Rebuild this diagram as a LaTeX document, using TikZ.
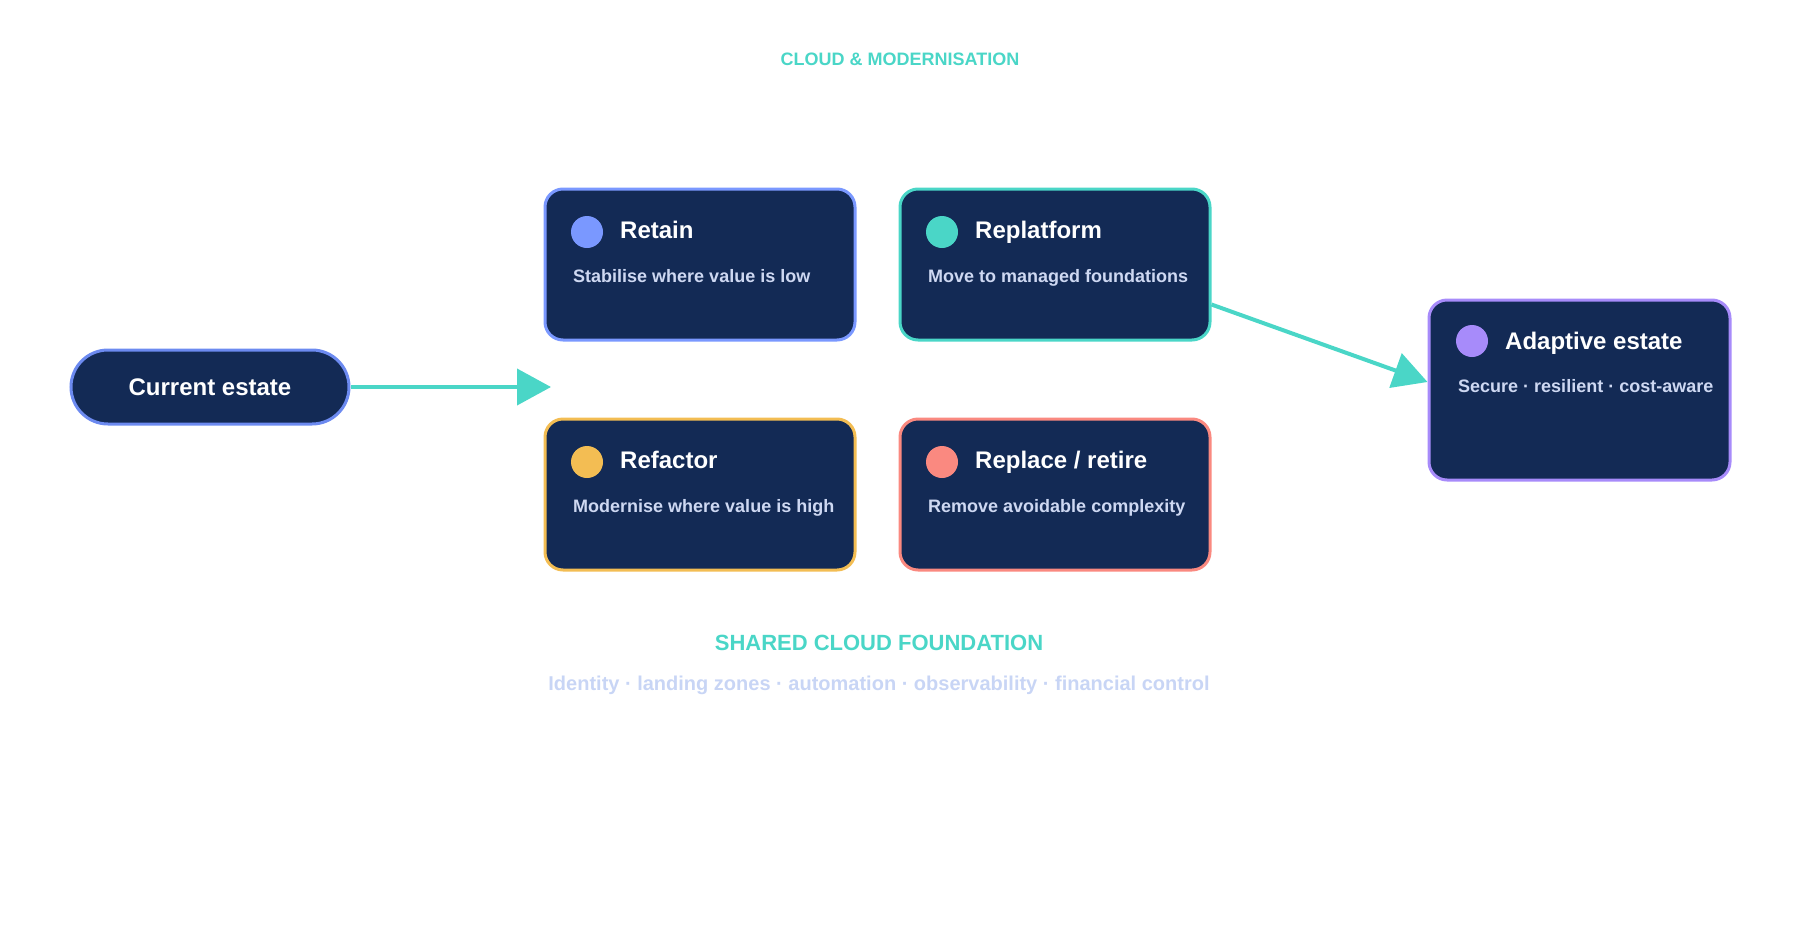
\documentclass[tikz,border=0pt]{standalone}
\usepackage{fontspec}
\setmainfont{Liberation Sans}
\usetikzlibrary{arrows.meta}
\usetikzlibrary{shapes}

\definecolor{navy}{RGB}{19,42,85}
\definecolor{teal}{RGB}{74,214,199}
\definecolor{retainblue}{RGB}{122,152,255}
\definecolor{pillblue}{RGB}{108,138,240}
\definecolor{refactoryellow}{RGB}{243,189,83}
\definecolor{replacered}{RGB}{250,137,128}
\definecolor{adaptivepurple}{RGB}{167,139,250}
\definecolor{cardsub}{RGB}{206,216,242}
\definecolor{foundsub}{RGB}{200,213,245}

\tikzset{
  card/.style={draw, line width=3pt, fill=navy, rounded corners=18pt, minimum width=310pt, minimum height=151pt, inner sep=0pt},
  dot/.style={circle, minimum size=32pt, inner sep=0pt},
  cardtitle/.style={anchor=base west, inner sep=0pt, text=white, font=\fontsize{24}{28}\selectfont\bfseries},
  cardtext/.style={anchor=base west, inner sep=0pt, text=cardsub, font=\fontsize{18}{21}\selectfont\bfseries},
  flow/.style={draw=teal, line width=4pt, -{Triangle[length=34pt,width=36pt]}},
}

\begin{document}
\begin{tikzpicture}[x=1pt,y=1pt,yscale=-1,xscale=1]
\useasboundingbox (0,0) rectangle (1800,940);

% Title
\node (title) at (900,59) [text=teal, font=\fontsize{18}{21}\selectfont\bfseries] {CLOUD \& MODERNISATION};

% Current estate
\node (current) at (210,387) [draw=pillblue, line width=3pt, fill=navy, rounded corners=37pt, minimum width=278pt, minimum height=74pt, text=white, font=\fontsize{24}{28}\selectfont\bfseries] {Current estate};
\coordinate (fanin) at (551,387);

% Retain
\node (retain) at (700,264.5) [card, draw=retainblue] {};
\node (retaindot) at (587,232) [dot, fill=retainblue] {};
\node (retaintitle) at (620,238) [cardtitle] {Retain};
\node (retaintext) at (573,282) [cardtext] {Stabilise where value is low};

% Replatform
\node (replatform) at (1055,264.5) [card, draw=teal] {};
\node (replatformdot) at (942,232) [dot, fill=teal] {};
\node (replatformtitle) at (975,238) [cardtitle] {Replatform};
\node (replatformtext) at (928,282) [cardtext] {Move to managed foundations};

% Refactor
\node (refactor) at (700,494.5) [card, draw=refactoryellow] {};
\node (refactordot) at (587,462) [dot, fill=refactoryellow] {};
\node (refactortitle) at (620,468) [cardtitle] {Refactor};
\node (refactortext) at (573,512) [cardtext] {Modernise where value is high};

% Replace / retire
\node (replace) at (1055,494.5) [card, draw=replacered] {};
\node (replacedot) at (942,462) [dot, fill=replacered] {};
\node (replacetitle) at (975,468) [cardtitle] {Replace / retire};
\node (replacetext) at (928,512) [cardtext] {Remove avoidable complexity};

% Adaptive estate
\node (adaptive) at (1579.5,390) [card, draw=adaptivepurple, minimum width=301pt, minimum height=180pt] {};
\node (adaptivedot) at (1472,341) [dot, fill=adaptivepurple] {};
\node (adaptivetitle) at (1505,349) [cardtitle] {Adaptive estate};
\node (adaptivetext) at (1458,392) [cardtext] {Secure · resilient · cost-aware};

% Arrows
\draw [flow] (current.east) -- (fanin);
\draw [flow] ([yshift=40pt]replatform.east) -- ([yshift=-8pt]adaptive.west);

% Foundation
\node (foundation) at (879,643) [text=teal, font=\fontsize{22}{26}\selectfont\bfseries] {SHARED CLOUD FOUNDATION};
\node (foundationtext) at (879,685) [text=foundsub, font=\fontsize{20}{24}\selectfont\bfseries] {Identity · landing zones · automation · observability · financial control};

\end{tikzpicture}
\end{document}
